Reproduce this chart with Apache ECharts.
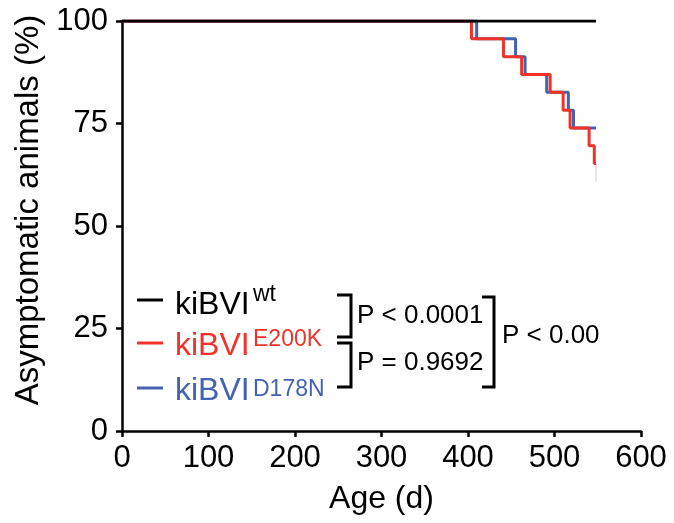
<!DOCTYPE html>
<html>
<head>
<meta charset="utf-8">
<script src="https://cdn.jsdelivr.net/npm/echarts@6/dist/echarts.min.js"></script>
<style>html,body{margin:0;padding:0;background:#fff;}#c{width:674px;height:523px;}</style>
</head>
<body>
<div id="c"></div>
<script>
// ---- data ----
var xTicks = [0, 100, 200, 300, 400, 500, 600];
var yTicks = [0, 25, 50, 75, 100];
var wtTimes = [0, 548];
var wtSurv = [100, 100];
var e200kTimes = [0, 404, 441, 462, 495, 510, 518, 540, 546, 548];
var e200kSurv = [100, 95.65, 91.30, 86.96, 82.61, 78.26, 73.91, 69.57, 65.22, 65.22];
var e200kTailTimes = [548, 548];
var e200kTailSurv = [65.22, 60.87];
var d178nTimes = [0, 410, 455, 466, 491, 516, 522, 548];
var d178nSurv = [100, 95.65, 91.30, 86.96, 82.61, 78.26, 73.91, 73.91];
var legendNames = ['kiBVI', 'kiBVI', 'kiBVI'];
var legendSups = ['wt', 'E200K', 'D178N'];
var pTexts = ['P < 0.0001', 'P = 0.9692', 'P < 0.00'];

function pairs(xs, ys) { return xs.map(function (x, i) { return [x, ys[i]]; }); }

var FONT = '"Liberation Sans", Arial, Helvetica, sans-serif';
var RED = '#ef3329', BLUE = '#4462b2', BLACK = '#000';
var legendColors = [BLACK, RED, BLUE];

var chart = echarts.init(document.getElementById('c'), null, {renderer: 'canvas'});

var graphics = [];
// legend
var legBaseY = [316, 357, 402];
var dashY = [300, 343, 388];
var supBase = [303, 348, 398];
for (var i = 0; i < 3; i++) {
  graphics.push({type: 'line', shape: {x1: 137, y1: dashY[i], x2: 163, y2: dashY[i]},
    style: {stroke: legendColors[i], lineWidth: 3}});
  graphics.push({type: 'text', x: 175, y: legBaseY[i] - 11,
    style: {text: legendNames[i], font: '32px ' + FONT, fill: legendColors[i], align: 'left', verticalAlign: 'middle'}});
  graphics.push({type: 'text', x: 253, y: supBase[i] - 8,
    style: {text: legendSups[i], font: '23px ' + FONT, fill: legendColors[i], align: 'left', verticalAlign: 'middle'}});
}
// brackets
var brackets = [
  [[337, 295], [351, 295], [351, 337], [337, 337]],
  [[337, 343], [351, 343], [351, 387], [337, 387]],
  [[482, 297], [494, 297], [494, 387], [482, 387]]
];
brackets.forEach(function (pts) {
  graphics.push({type: 'polyline', shape: {points: pts}, style: {stroke: BLACK, lineWidth: 3, fill: null}});
});
var pPos = [[357, 316], [357, 363], [502, 336]];
pTexts.forEach(function (t, i) {
  graphics.push({type: 'text', x: pPos[i][0], y: pPos[i][1],
    style: {text: t, font: '26px ' + FONT, fill: BLACK, align: 'left', verticalAlign: 'middle'}});
});

var axisCommon = {
  axisLine: {show: true, onZero: false, lineStyle: {color: BLACK, width: 2.5}},
  axisTick: {show: true, inside: false, length: 6, lineStyle: {color: BLACK, width: 2.5}},
  splitLine: {show: false}
};

chart.setOption({
  animation: false,
  backgroundColor: '#fff',
  grid: {left: 122, right: 33, top: 21, bottom: 92, containLabel: false},
  xAxis: Object.assign({}, axisCommon, {
    type: 'value', min: xTicks[0], max: xTicks[xTicks.length - 1], interval: 100,
    name: 'Age (d)', nameLocation: 'middle', nameGap: 52,
    nameTextStyle: {color: BLACK, fontSize: 32, fontFamily: FONT},
    axisLabel: {color: BLACK, fontSize: 31, fontFamily: FONT, margin: 12}
  }),
  yAxis: Object.assign({}, axisCommon, {
    type: 'value', min: yTicks[0], max: yTicks[yTicks.length - 1], interval: 25,
    name: 'Asymptomatic animals (%)', nameLocation: 'middle', nameGap: 70, nameRotate: 90,
    nameTextStyle: {color: BLACK, fontSize: 33, fontFamily: FONT, padding: [0, 0, 0, 32]},
    axisLabel: {color: BLACK, fontSize: 31, fontFamily: FONT, margin: 14}
  }),
  series: [
    {type: 'line', name: 'kiBVI D178N', data: pairs(d178nTimes, d178nSurv), step: 'end', symbol: 'none',
      lineStyle: {color: BLUE, width: 3}, z: 2},
    {type: 'line', name: 'kiBVI E200K tail', data: pairs(e200kTailTimes, e200kTailSurv), symbol: 'none',
      lineStyle: {color: '#d8c6c6', width: 1}, z: 2},
    {type: 'line', name: 'kiBVI E200K', data: pairs(e200kTimes, e200kSurv), step: 'end', symbol: 'none',
      lineStyle: {color: RED, width: 3}, z: 3},
    {type: 'line', name: 'kiBVI wt', data: pairs(wtTimes, wtSurv), symbol: 'none',
      lineStyle: {color: BLACK, width: 3}, z: 4}
  ],
  graphic: graphics
});
</script>
</body>
</html>
